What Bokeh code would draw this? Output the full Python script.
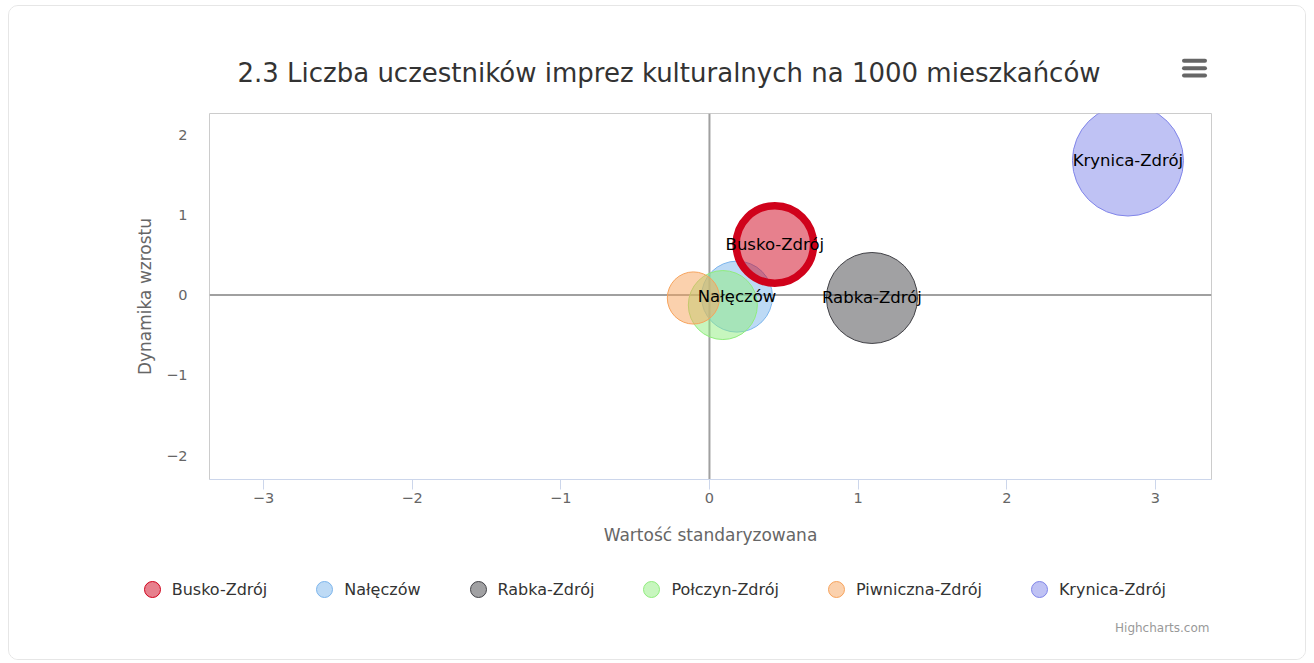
import math
from bokeh.plotting import figure
from bokeh.layouts import column
from bokeh.models import (ColumnDataSource, Span, Legend, LegendItem,
                          FixedTicker, Range1d)
from bokeh.core.properties import value
from bokeh.embed import file_html
from bokeh.resources import INLINE

# ---------------- data ----------------
title_text = "2.3 Liczba uczestników imprez kulturalnych na 1000 mieszkańców"
cities = ["Busko-Zdrój", "Nałęczów", "Rabka-Zdrój", "Połczyn-Zdrój",
          "Piwniczna-Zdrój", "Krynica-Zdrój"]
x_std = [0.44, 0.185, 1.093, 0.09, -0.108, 2.815]        # Wartość standaryzowana
y_dyn = [0.63, -0.02, -0.037, -0.125, -0.037, 1.676]     # Dynamika wzrostu
z_val = [1500, 1260, 2070, 1190, 680, 3080]              # bubble size value
colors = ["#d0021b", "#7cb5ec", "#434348", "#90ed7d", "#f7a35c", "#8085e9"]
labelled = ["Busko-Zdrój", "Nałęczów", "Rabka-Zdrój", "Krynica-Zdrój"]
x_ticks = [-3, -2, -1, 0, 1, 2, 3]
y_ticks = [-2, -1, 0, 1, 2]

FONT = "DejaVu Sans"
FW = 1296                 # inner width of the card
LEFT = 9                  # page x of canvas left
TOP = 6                   # page y of canvas top
HH = 107                  # header height (to frame top at 113)
MH = 446                  # main figure height
FH = 653 - HH - MH        # footer height
X0, X1 = -3.363, 3.377
Y0, Y1 = -2.299, 2.262
FL, FR = 209, 1211        # frame left/right in page px


def blank(h, y_top):
    f = figure(width=FW, height=h, output_backend="svg", toolbar_location=None,
               x_range=Range1d(LEFT, LEFT + FW), y_range=Range1d(y_top + h, y_top),
               x_axis_location=None, y_axis_location=None, title=None,
               min_border=0, outline_line_color=None, frame_align=False)
    f.grid.visible = False
    f.background_fill_color = "white"
    f.border_fill_color = "white"
    return f


# ---------------- header: title + menu ----------------
header = blank(HH, TOP)
header.text(x=[668.5], y=[72.5], text=[title_text], text_align="center",
            text_baseline="alphabetic", text_font=value(FONT),
            text_font_size="26px", text_color="#333333")
header.segment(x0=[1183.5] * 3, x1=[1204.5] * 3, y0=[60.3, 67.7, 75.0],
               y1=[60.3, 67.7, 75.0], line_color="#666666", line_width=4,
               line_cap="round")

# ---------------- main plot ----------------
p = figure(width=FW, height=MH, output_backend="svg", toolbar_location=None,
           x_range=Range1d(X0, X1), y_range=Range1d(Y0, Y1), title=None,
           min_border_left=FL - LEFT, min_border_right=LEFT + FW - FR,
           min_border_top=0, min_border_bottom=MH - 366, frame_align=False)
p.background_fill_color = "white"
p.border_fill_color = "white"
p.outline_line_color = "#cccccc"
p.outline_line_width = 1
p.xgrid.grid_line_color = None
p.ygrid.grid_line_color = None

p.xaxis.ticker = FixedTicker(ticks=x_ticks)
p.yaxis.ticker = FixedTicker(ticks=y_ticks)
p.xaxis.major_label_overrides = {t: str(t).replace("-", "\u2212") for t in x_ticks}
p.yaxis.major_label_overrides = {t: str(t).replace("-", "\u2212") for t in y_ticks}
for ax in (p.xaxis[0], p.yaxis[0]):
    ax.major_label_text_font = FONT
    ax.major_label_text_font_size = "14.5px"
    ax.major_label_text_color = "#666666"
    ax.axis_label_text_font = FONT
    ax.axis_label_text_font_size = "17px"
    ax.axis_label_text_color = "#666666"
    ax.axis_label_text_font_style = "normal"
    ax.minor_tick_line_color = None
p.xaxis.axis_label = "Wartość standaryzowana"
p.xaxis.axis_line_color = "#ccd6eb"
p.xaxis.major_tick_line_color = "#ccd6eb"
p.xaxis.major_tick_out = 10
p.xaxis.major_tick_in = 0
p.xaxis.major_label_standoff = 3
p.xaxis.axis_label_standoff = 19
p.yaxis.axis_label = "Dynamika wzrostu"
p.yaxis.axis_line_color = None
p.yaxis.major_tick_line_color = None
p.yaxis.major_tick_out = 0
p.yaxis.major_tick_in = 0
p.yaxis.major_label_standoff = 22
p.yaxis.axis_label_standoff = 8

p.add_layout(Span(location=0, dimension="height", line_color="#a0a0a0",
                  line_width=2, level="underlay"))
p.add_layout(Span(location=0, dimension="width", line_color="#a0a0a0",
                  line_width=2, level="underlay"))

zmax = max(z_val)
R_MAX = 55.5
sizes = [2 * R_MAX * math.sqrt(z / zmax) for z in z_val]
line_w = [7.5 if c == "Busko-Zdrój" else 1 for c in cities]
draw_order = [1, 2, 3, 4, 5, 0]
for i in draw_order:
    src = ColumnDataSource(dict(x=[x_std[i]], y=[y_dyn[i]], size=[sizes[i]]))
    p.scatter("x", "y", size="size", source=src, marker="circle",
              fill_color=colors[i], fill_alpha=0.5,
              line_color=colors[i], line_width=line_w[i])

lab_idx = [cities.index(c) for c in labelled]
lab_src = ColumnDataSource(dict(x=[x_std[i] for i in lab_idx],
                                y=[y_dyn[i] for i in lab_idx],
                                t=[cities[i] for i in lab_idx]))
p.text("x", "y", text="t", source=lab_src, text_align="center",
       text_baseline="middle", text_font=value(FONT),
       text_font_size="16.5px", text_color="#000000")

# ---------------- footer: legend + credits ----------------
footer = blank(FH, TOP + HH + MH)
items = []
for i, c in enumerate(cities):
    proxy = footer.scatter(x=[float("nan")], y=[float("nan")], marker="circle",
                           size=16, fill_color=colors[i], fill_alpha=0.5,
                           line_color=colors[i], line_width=1)
    items.append(LegendItem(label=c, renderers=[proxy]))
legend = Legend(items=items, orientation="horizontal",
                location=(131.7 - LEFT, (TOP + HH + MH + FH) - 609),
                glyph_width=40, glyph_height=40, label_standoff=0, spacing=37,
                padding=0, margin=0, border_line_color=None,
                background_fill_alpha=0, label_text_font=FONT,
                label_text_font_size="16px", label_text_color="#333333",
                label_text_baseline="middle")
footer.add_layout(legend, "center")
footer.text(x=[1209], y=[627], text=["Highcharts.com"], text_align="right",
            text_baseline="alphabetic", text_font=value(FONT),
            text_font_size="12px", text_color="#999999")

layout = column(header, p, footer, spacing=0,
                styles={"margin": "5px 8px 0px 8px",
                        "border": "1px solid #e6e6e6",
                        "border-radius": "10px",
                        "overflow": "hidden"})

open("out.html", "w").write(file_html(layout, INLINE))
